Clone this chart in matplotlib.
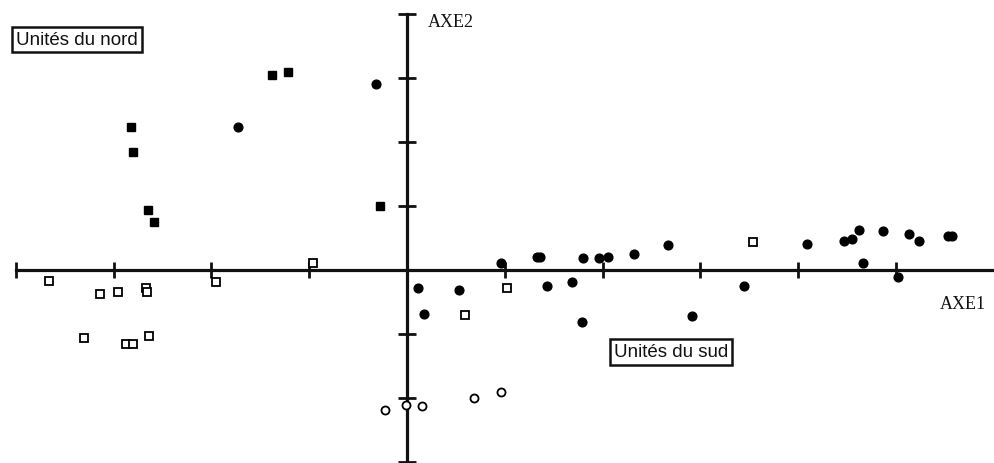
"""
plot.py
-------
Factorial map (AXE1 x AXE2) of the sampled units, north vs south.
Saves out.png (995x464).
"""

import matplotlib.pyplot as plt


# ── Data (factor scores) ────────────────────────────────────────────────────
# filled circles
dot_x = [-0.32, -1.73, 0.96, 1.33, 1.36, 1.80, 1.96, 2.05, 2.32, 2.67,
         4.09, 4.47, 4.55, 4.62, 4.87, 5.13, 5.24, 5.53, 5.57, 4.66,
         5.02, 0.11, 0.53, 1.43, 1.69, 0.17, 1.79, 3.45, 2.91]
dot_y = [2.91, 2.23, 0.11, 0.20, 0.20, 0.19, 0.19, 0.20, 0.25, 0.39,
         0.41, 0.45, 0.48, 0.63, 0.61, 0.56, 0.45, 0.53, 0.53, 0.11,
         -0.11, -0.28, -0.31, -0.25, -0.19, -0.69, -0.81, -0.25, -0.72]

# filled squares
fsq_x = [-2.82, -2.80, -2.65, -2.59, -1.38, -1.22, -0.28]
fsq_y = [2.23, 1.84, 0.94, 0.75, 3.05, 3.09, 1.00]

# open squares
osq_x = [3.54, 1.02, 0.59, -3.66, -3.14, -2.96, -2.67, -2.66, -3.30,
         -2.87, -2.80, -2.64, -1.95, -0.96]
osq_y = [0.44, -0.28, -0.70, -0.17, -0.38, -0.34, -0.28, -0.34, -1.06,
         -1.16, -1.16, -1.03, -0.19, 0.11]

# open circles
oc_x = [-0.01, -0.23, 0.15, 0.68, 0.96]
oc_y = [-2.11, -2.19, -2.13, -2.00, -1.91]

x_ticks = [-4, -3, -2, -1, 1, 2, 3, 4, 5]
y_ticks = [-3, -2, -1, 1, 2, 3, 4]


def main() -> None:
    fig = plt.figure(figsize=(9.95, 4.64), dpi=100)
    ax = fig.add_axes([0, 0, 1, 1])
    ax.set_xlim(-4.162, 6.012)
    ax.set_ylim(-3.016, 4.234)

    # axes crossing at the origin
    for side in ("top", "right"):
        ax.spines[side].set_visible(False)
    ax.spines["left"].set_position(("data", 0))
    ax.spines["bottom"].set_position(("data", 0))
    ax.spines["left"].set_bounds(-3, 4)
    ax.spines["bottom"].set_bounds(-4, 6.0)
    for side in ("left", "bottom"):
        ax.spines[side].set_linewidth(2.3)
        ax.spines[side].set_color("#111111")

    ax.set_xticks(x_ticks)
    ax.set_yticks(y_ticks)
    ax.set_xticklabels([])
    ax.set_yticklabels([])
    ax.tick_params(axis="x", direction="inout", length=11, width=2.0, color="#111111")
    ax.tick_params(axis="y", direction="inout", length=13, width=2.0, color="#111111")

    ax.plot(dot_x, dot_y, "o", ms=6.3, color="black", zorder=3)
    ax.plot(fsq_x, fsq_y, "s", ms=5.8, color="black", zorder=3)
    ax.plot(osq_x, osq_y, "s", ms=5.8, mfc="white", mec="black", mew=1.3, zorder=3)
    ax.plot(oc_x, oc_y, "o", ms=5.8, mfc="white", mec="black", mew=1.3, zorder=3)

    serif = dict(family="Liberation Serif", fontsize=13, color="#111111")
    ax.text(0.215, 3.875, "AXE2", ha="left", va="center", **serif)
    ax.text(5.685, -0.53, "AXE1", ha="center", va="center", **serif)

    box = dict(boxstyle="square,pad=0.22", fc="white", ec="#111111", lw=1.8)
    label = dict(family="Liberation Sans", fontsize=13.5, color="#111111",
                 ha="center", va="center", bbox=box)
    ax.text(-3.374, 3.60, "Unités du nord", **label)
    ax.text(2.699, -1.28, "Unités du sud", **label)

    fig.savefig("out.png", dpi=100)
    plt.close(fig)


if __name__ == "__main__":
    main()
